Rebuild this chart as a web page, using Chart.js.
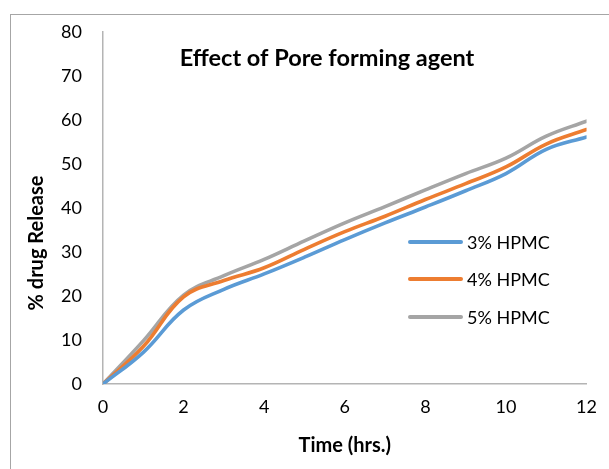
<!DOCTYPE html>
<html>
<head>
<meta charset="utf-8">
<script src="https://cdn.jsdelivr.net/npm/chart.js@4"></script>
<style>
  html, body { margin: 0; padding: 0; background: #ffffff; }
  #wrap { position: relative; width: 609px; height: 469px; overflow: hidden; }
  canvas { display: block; }
</style>
</head>
<body>
<div id="wrap"><canvas id="chart" width="609" height="469"></canvas></div>
<script>
// Time points (hours)
const hours = [0, 1, 2, 3, 4, 5, 6, 7, 8, 9, 10, 11, 12];

// Cumulative % drug release for each HPMC level
const hpmc3 = [0, 7.2, 16.8, 21.5, 25.0, 28.8, 32.8, 36.6, 40.2, 43.9, 47.8, 53.3, 56.1];
const hpmc4 = [0, 8.5, 19.8, 23.5, 26.4, 30.6, 34.6, 38.1, 41.9, 45.5, 49.3, 54.5, 57.8];
const hpmc5 = [0, 9.8, 20.2, 24.6, 28.3, 32.5, 36.6, 40.3, 44.1, 47.8, 51.3, 56.3, 59.7];

const seriesNames = ['3% HPMC', '4% HPMC', '5% HPMC'];
const seriesColors = ['#5B9BD5', '#ED7D31', '#A5A5A5'];

const chartTitle = 'Effect of Pore forming agent';
const xTitle = 'Time (hrs.)';
const yTitle = '% drug Release';

const FONT = 'Lato, "Open Sans", sans-serif';

function toPoints(values) {
  return hours.map((h, i) => ({ x: h, y: values[i] }));
}

// Outer frame, chart title, axis titles and the in-plot legend
const decorations = {
  id: 'decorations',
  beforeDraw(chart) {
    const ctx = chart.ctx;
    ctx.save();
    ctx.strokeStyle = '#a6a6a6';
    ctx.lineWidth = 1;
    ctx.strokeRect(10.5, 14.5, 800, 800);
    ctx.restore();
  },
  afterDraw(chart) {
    const ctx = chart.ctx;
    const a = chart.chartArea;
    ctx.save();
    ctx.fillStyle = '#000';

    // Title
    ctx.font = 'bold 23.5px ' + FONT;
    ctx.textAlign = 'center';
    ctx.textBaseline = 'middle';
    ctx.fillText(chartTitle, 327, 58);

    // X axis title
    ctx.font = 'bold 20px ' + FONT;
    ctx.fillText(xTitle, (a.left + a.right) / 2, 446);

    // Y axis title
    ctx.save();
    ctx.translate(37, 243);
    ctx.rotate(-Math.PI / 2);
    ctx.fillText(yTitle, 0, 0);
    ctx.restore();

    // Legend
    const rows = [242, 279, 317];
    ctx.font = '18px ' + FONT;
    ctx.textAlign = 'left';
    chart.data.datasets.forEach((ds, i) => {
      const y = rows[i];
      ctx.strokeStyle = ds.borderColor;
      ctx.lineWidth = 4;
      ctx.lineCap = 'round';
      ctx.beginPath();
      ctx.moveTo(410, y);
      ctx.lineTo(461, y);
      ctx.stroke();
      ctx.fillStyle = '#000';
      ctx.fillText(ds.label, 467, y + 1);
    });
    ctx.restore();
  }
};

new Chart(document.getElementById('chart'), {
  type: 'line',
  data: {
    datasets: [hpmc3, hpmc4, hpmc5].map((vals, i) => ({
      label: seriesNames[i],
      data: toPoints(vals),
      borderColor: seriesColors[i],
      backgroundColor: seriesColors[i],
      borderWidth: 3.6,
      pointRadius: 0,
      tension: 0.4,
      borderCapStyle: 'round',
      fill: false
    }))
  },
  options: {
    responsive: false,
    animation: false,
    events: [],
    layout: { padding: { top: 28, right: 20, left: 0, bottom: 0 } },
    plugins: {
      legend: { display: false },
      title: { display: false },
      tooltip: { enabled: false }
    },
    scales: {
      x: {
        type: 'linear',
        min: 0,
        max: 12,
        grid: { display: false, drawTicks: false },
        border: { display: true, color: '#b4b4b4', width: 1.5 },
        ticks: {
          stepSize: 2,
          padding: 12,
          color: '#000',
          font: { family: FONT, size: 18 },
          maxRotation: 0
        },
        afterFit(scale) { scale.height = 85; }
      },
      y: {
        min: 0,
        max: 80,
        grid: { display: false, drawTicks: false },
        border: { display: true, color: '#b4b4b4', width: 1.5 },
        ticks: {
          stepSize: 10,
          padding: 21,
          color: '#000',
          font: { family: FONT, size: 18 }
        },
        afterFit(scale) { scale.width = 103; }
      }
    }
  },
  plugins: [decorations]
});
</script>
</body>
</html>
